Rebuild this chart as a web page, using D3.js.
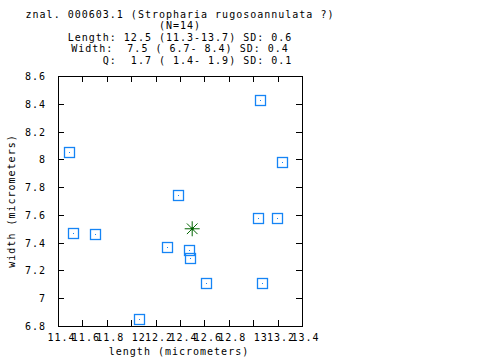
<!DOCTYPE html>
<html>
<head>
<meta charset="utf-8">
<script src="https://cdn.jsdelivr.net/npm/d3@7/dist/d3.min.js"></script>
<style>
  html, body { margin: 0; padding: 0; background: #fff; }
  svg text { font-family: "DejaVu Sans Mono", monospace; font-size: 10px; letter-spacing: 1px; white-space: pre; fill: #000; }
</style>
</head>
<body>
<svg id="chart" width="480" height="360"></svg>
<script>
// ---- data ----
const titleLines = [
  "znal. 000603.1 (Stropharia rugosoannulata ?)",
  "(N=14)",
  "Length: 12.5 (11.3-13.7) SD: 0.6",
  "Width:  7.5 ( 6.7- 8.4) SD: 0.4",
  "     Q:  1.7 ( 1.4- 1.9) SD: 0.1"
];
const lengths = [11.49, 11.525, 11.70, 12.296, 13.058, 13.239, 12.386, 13.042, 13.198, 12.476, 12.484, 12.616, 13.075, 12.067];
const widths  = [8.05, 7.467, 7.46, 7.367, 8.425, 7.979, 7.741, 7.575, 7.575, 7.345, 7.287, 7.107, 7.107, 6.848];
const meanLength = 12.5;
const meanWidth = 7.5;
const xTicks = [11.4, 11.6, 11.8, 12.0, 12.2, 12.4, 12.6, 12.8, 13.0, 13.2, 13.4];
const xTickLabels = ["11.4", "11.6", "11.8", "12", "12.2", "12.4", "12.6", "12.8", "13", "13.2", "13.4"];
const yTicks = [6.8, 7.0, 7.2, 7.4, 7.6, 7.8, 8.0, 8.2, 8.4, 8.6];
const yTickLabels = ["6.8", "7", "7.2", "7.4", "7.6", "7.8", "8", "8.2", "8.4", "8.6"];
const xLabel = "length (micrometers)";
const yLabel = "width (micrometers)";

// ---- layout ----
const L = 58, R = 302, T = 76, B = 326;
const svg = d3.select("#chart");
const x = d3.scaleLinear().domain([11.4, 13.4]).range([L, R]);
const y = d3.scaleLinear().domain([6.8, 8.6]).range([B, T]);
const blue = "#1584f5";
const green = "#006400";

// title
svg.append("g").selectAll("text").data(titleLines).join("text")
  .attr("x", 180).attr("y", (d, i) => 18 + i * 11.4)
  .attr("text-anchor", "middle")
  .text(d => d);

// axes (ticks inward, mirrored)
const tick = 6;
const gx = svg.append("g").attr("transform", `translate(0,${B})`)
  .call(d3.axisBottom(x).tickValues(xTicks).tickSize(-tick).tickSizeOuter(0).tickFormat((d, i) => xTickLabels[i]));
const gxt = svg.append("g").attr("transform", `translate(0,${T})`)
  .call(d3.axisTop(x).tickValues(xTicks).tickSize(-tick).tickSizeOuter(0).tickFormat(""));
const gy = svg.append("g").attr("transform", `translate(${L},0)`)
  .call(d3.axisLeft(y).tickValues(yTicks).tickSize(-tick).tickSizeOuter(0).tickFormat((d, i) => yTickLabels[i]));
const gyr = svg.append("g").attr("transform", `translate(${R},0)`)
  .call(d3.axisRight(y).tickValues(yTicks).tickSize(-tick).tickSizeOuter(0).tickFormat(""));

[gx, gxt, gy, gyr].forEach(g => {
  g.select(".domain").remove();
  g.selectAll("line").attr("stroke", "#000").attr("shape-rendering", "crispEdges");
  g.attr("font-family", null).attr("font-size", null);
});
// gnuplot-like placement: short labels sit a little right of their tick
gx.selectAll("text")
  .attr("y", 14.5).attr("dy", null)
  .attr("x", function () { const n = this.textContent.length; return 3 + (4 - n) * 2; })
  .attr("text-anchor", "middle").attr("fill", "#000");
gy.selectAll("text").attr("x", -12).attr("dy", "0.35em").attr("fill", "#000");
gxt.selectAll("text").remove();
gyr.selectAll("text").remove();

// border
svg.append("rect").attr("x", L).attr("y", T).attr("width", R - L).attr("height", B - T)
  .attr("fill", "none").attr("stroke", "#000").attr("shape-rendering", "crispEdges");

// axis labels
svg.append("text").attr("x", 179).attr("y", 355).attr("text-anchor", "middle").text(xLabel);
svg.append("text").attr("transform", `translate(15,${(T + B) / 2}) rotate(-90)`)
  .attr("text-anchor", "middle").text(yLabel);

// points
const pts = lengths.map((l, i) => ({ l, w: widths[i] }));
const gp = svg.append("g");
gp.selectAll("rect.sq").data(pts).join("rect").attr("class", "sq")
  .attr("x", d => Math.round(x(d.l)) - 5 + 0.5).attr("y", d => Math.round(y(d.w)) - 5 + 0.5)
  .attr("width", 10).attr("height", 10)
  .attr("fill", "none").attr("stroke", blue).attr("stroke-width", 1.3);
gp.selectAll("rect.dot").data(pts).join("rect").attr("class", "dot")
  .attr("x", d => Math.round(x(d.l))).attr("y", d => Math.round(y(d.w)))
  .attr("width", 1).attr("height", 1).attr("fill", blue);

// mean star
const cx = x(meanLength), cy = y(meanWidth), r = 7.5;
const gs = svg.append("g").attr("stroke", green).attr("stroke-width", 1);
d3.range(4).forEach(k => {
  const a = k * Math.PI / 4;
  gs.append("line")
    .attr("x1", cx - r * Math.cos(a)).attr("y1", cy - r * Math.sin(a))
    .attr("x2", cx + r * Math.cos(a)).attr("y2", cy + r * Math.sin(a));
});
svg.append("circle").attr("cx", cx).attr("cy", cy).attr("r", 1.5).attr("fill", green);
</script>
</body>
</html>
